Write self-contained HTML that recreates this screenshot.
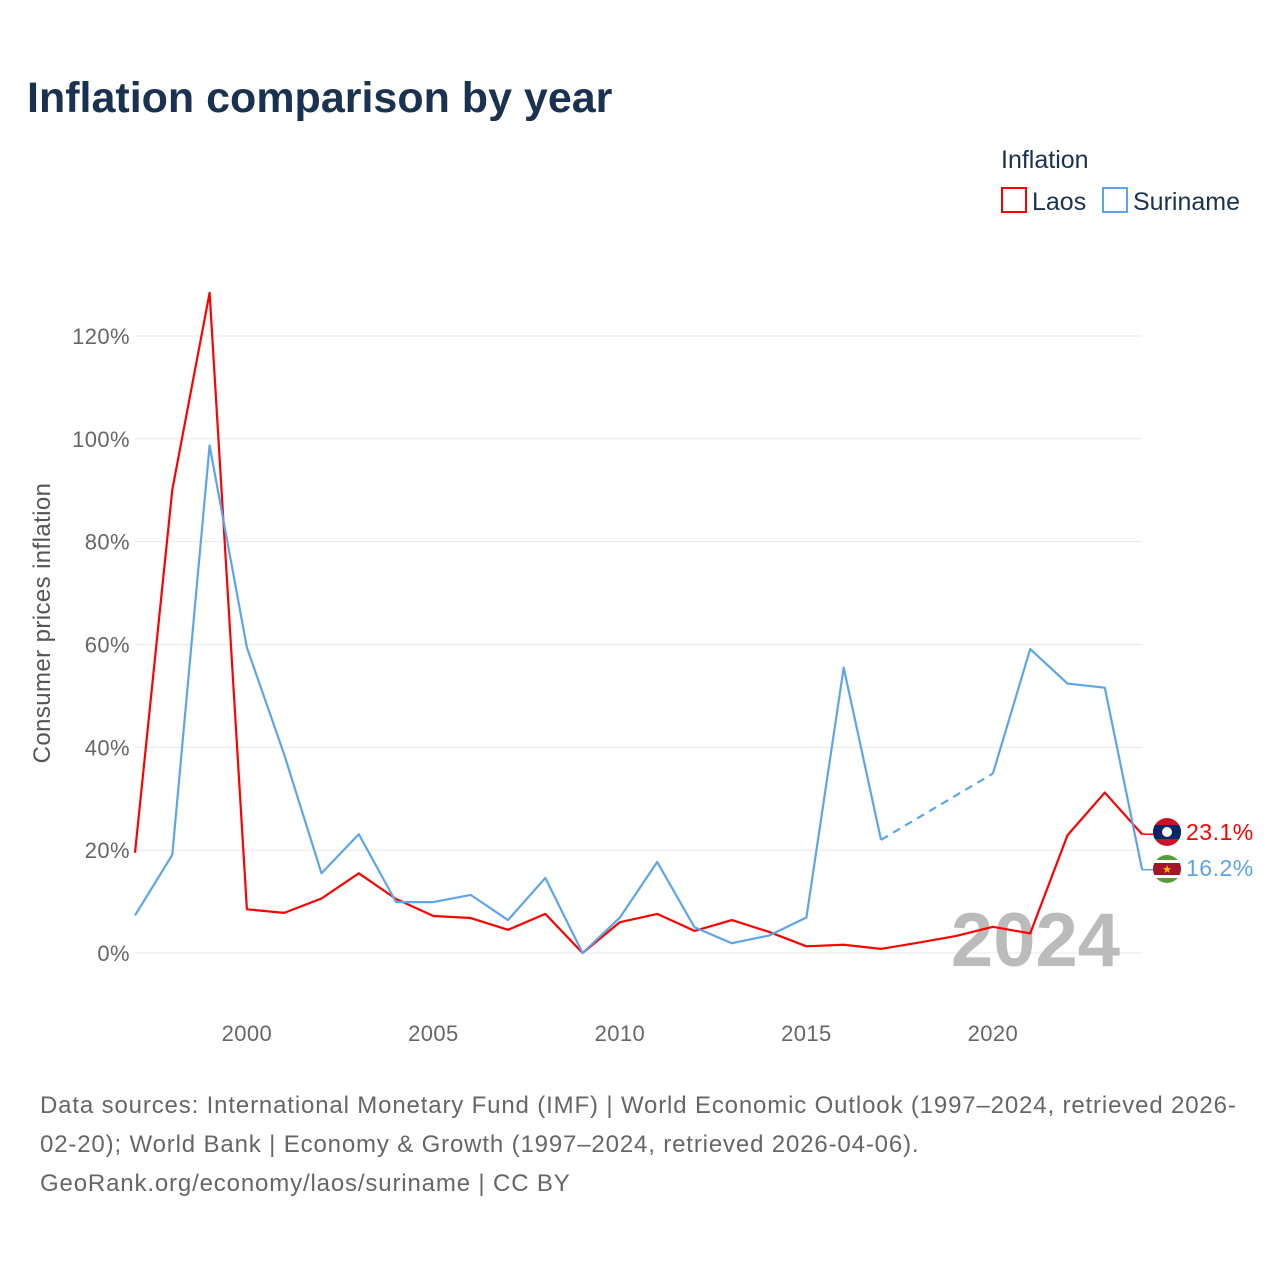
<!DOCTYPE html>
<html><head><meta charset="utf-8"><style>
body{margin:0;background:#fff;font-family:"Liberation Sans",sans-serif}
svg text{font-family:"Liberation Sans",sans-serif}
</style></head><body>
<svg id="chart" width="1280" height="1280" xmlns="http://www.w3.org/2000/svg">
<text x="27" y="112" font-size="43" font-weight="bold" fill="#1a3150">Inflation comparison by year</text>
<text x="1001" y="168" font-size="25" fill="#1a3150">Inflation</text>
<g><rect x="1002" y="188" width="24" height="24" fill="none" stroke="#f00" stroke-width="2"/><text x="1032" y="210" font-size="25" fill="#1a3150">Laos</text></g>
<g><rect x="1103" y="188" width="24" height="24" fill="none" stroke="#5da5eb" stroke-width="2"/><text x="1133" y="210" font-size="25" fill="#1a3150">Suriname</text></g>
<text transform="translate(50,623) rotate(-90)" text-anchor="middle" font-size="24" letter-spacing="0.4" fill="#555">Consumer prices inflation</text>
<g id="grid"></g><g id="xt"></g>
<text x="1120" y="966" text-anchor="end" font-size="76" font-weight="bold" fill="#bbb">2024</text>
<g id="lines"></g>
<g>
<clipPath id="cl"><circle cx="1167" cy="832" r="14"/></clipPath>
<g clip-path="url(#cl)"><rect x="1150" y="815" width="34" height="34" fill="#ce1126"/><rect x="1150" y="825" width="34" height="14" fill="#002868"/></g><circle cx="1167" cy="832" r="5" fill="#fff"/>
<text x="1186" y="840" font-size="23" letter-spacing="0.5" fill="#f00">23.1%</text></g>
<g>
<clipPath id="cs"><circle cx="1167" cy="869" r="14"/></clipPath>
<g clip-path="url(#cs)"><rect x="1150" y="852" width="34" height="34" fill="#5a9a3a"/><rect x="1150" y="860" width="34" height="18" fill="#fff"/><rect x="1150" y="863" width="34" height="12" fill="#a5152a"/></g>
<text x="1167" y="873" text-anchor="middle" font-size="11" fill="#f2c200">★</text>
<text x="1186" y="876" font-size="23" letter-spacing="0.5" fill="#5da5eb">16.2%</text></g>
<text font-size="24" letter-spacing="0.85" fill="#666"><tspan x="40" y="1113">Data sources: International Monetary Fund (IMF) | World Economic Outlook (1997–2024, retrieved 2026-</tspan><tspan x="40" y="1152">02-20); World Bank | Economy &amp; Growth (1997–2024, retrieved 2026-04-06).</tspan><tspan x="40" y="1191">GeoRank.org/economy/laos/suriname | CC BY</tspan></text>
</svg>
<script>
const years=[1997,1998,1999,2000,2001,2002,2003,2004,2005,2006,2007,2008,2009,2010,2011,2012,2013,2014,2015,2016,2017,2018,2019,2020,2021,2022,2023,2024];
const laos=[19.5,90.1,128.4,8.5,7.8,10.6,15.5,10.5,7.2,6.8,4.5,7.6,0.0,6.0,7.6,4.3,6.4,4.1,1.3,1.6,0.8,2.0,3.3,5.1,3.8,22.9,31.2,23.1];
const suriname=[7.3,19.1,98.7,59.4,38.6,15.5,23.1,9.9,9.9,11.3,6.4,14.6,0.0,6.9,17.7,5.0,1.9,3.4,6.9,55.5,22.0,null,null,34.9,59.1,52.4,51.6,16.2];
const yTicks=[0,20,40,60,80,100,120];
const xTicks=[2000,2005,2010,2015,2020];
const X=y=>135+(y-1997)*37.3, Y=v=>953-v*5.142;
const NS="http://www.w3.org/2000/svg";
function mk(t,a,p){const e=document.createElementNS(NS,t);for(const k in a)e.setAttribute(k,a[k]);p.appendChild(e);return e;}
const g=document.getElementById('grid'),xt=document.getElementById('xt'),L=document.getElementById('lines');
yTicks.forEach(v=>{const l=mk('line',{x1:135,x2:1142,y1:Y(v),y2:Y(v),stroke:'#e8e8e8'},g);


const t=mk('text',{x:130,y:Y(v)+8,'text-anchor':'end','font-size':22,'letter-spacing':0.4,fill:'#666'},g);t.textContent=v+'%';

});
xTicks.forEach(v=>{const t=mk('text',{x:X(v),y:1041,'text-anchor':'middle','font-size':22,'letter-spacing':0.4,fill:'#666'},xt);t.textContent=v;

});
function draw(vals,col,name){let segs=[],cur=[];vals.forEach((v,i)=>{if(v==null){if(cur.length)segs.push(cur);cur=[];}else cur.push([X(years[i]),Y(v)]);});if(cur.length)segs.push(cur);
segs.forEach(s=>{const p=mk('polyline',{points:s.map(q=>q.join(',')).join(' '),fill:'none',stroke:col,'stroke-width':2.2,'stroke-linejoin':'round'},L);

});
for(let i=1;i<vals.length;i++){if(vals[i]==null){let a=i-1,b=i;while(vals[b]==null)b++;const d=mk('line',{x1:X(years[a]),y1:Y(vals[a]),x2:X(years[b]),y2:Y(vals[b]),stroke:col,'stroke-width':2.2,'stroke-dasharray':'8,6'},L);

i=b;}}
const n=vals.length-1;mk('line',{x1:X(years[n]),y1:Y(vals[n]),x2:1153,y2:Y(vals[n]),stroke:col,'stroke-width':1.5},L);}
draw(laos,'#f00','laos');draw(suriname,'#5da5eb','suriname');
</script>
</body></html>
